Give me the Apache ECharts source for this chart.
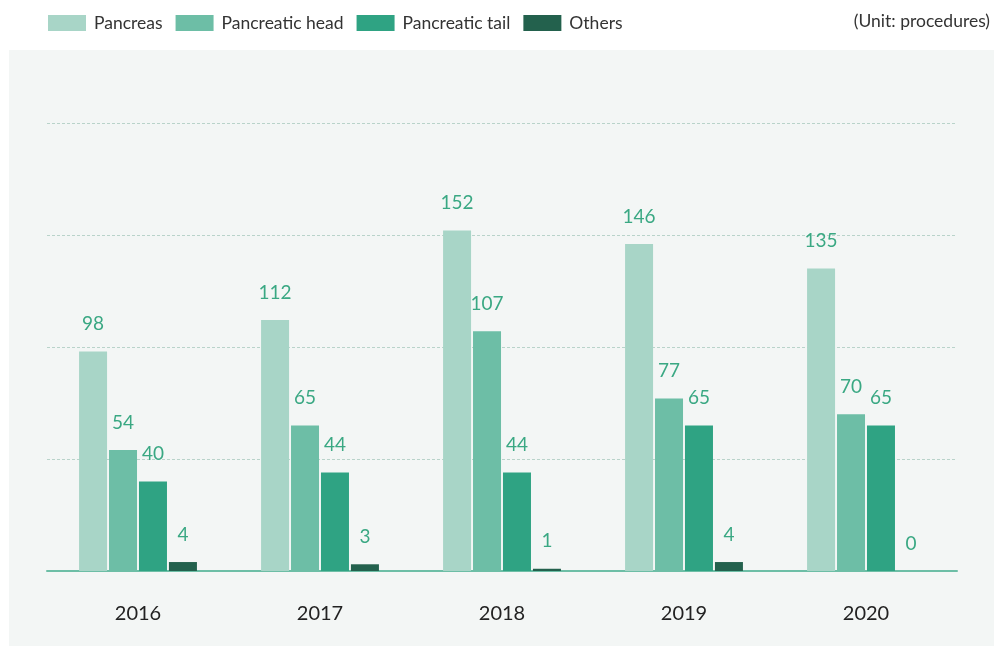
<!DOCTYPE html>
<html>
<head>
<meta charset="utf-8">
<script src="https://cdn.jsdelivr.net/npm/echarts@6/dist/echarts.min.js"></script>
<style>
  html, body { margin: 0; padding: 0; background: #fff; }
  #chart { width: 995px; height: 646px; }
</style>
</head>
<body>
<div id="chart"></div>
<script>
const years = ['2016', '2017', '2018', '2019', '2020']
const pancreas = [98, 112, 152, 146, 135]
const pancreaticHead = [54, 65, 107, 77, 70]
const pancreaticTail = [40, 44, 44, 65, 65]
const others = [4, 3, 1, 4, 0]

const colors = ['#a8d5c7', '#6dbea6', '#2fa383', '#23614d']
const fontFamily = 'Lato, "Noto Sans", sans-serif'

function barSeries(name, data) {
  return {
    name: name,
    type: 'bar',
    barWidth: 28,
    barGap: '7%',
    data: data,
    label: {
      show: true,
      position: 'top',
      distance: 18,
      color: '#3aa883',
      fontSize: 19,
      fontFamily: fontFamily
    }
  }
}

const chart = echarts.init(document.getElementById('chart'))
chart.setOption({
  animation: false,
  backgroundColor: '#fff',
  color: colors,
  textStyle: { fontFamily: fontFamily },
  graphic: [{
    type: 'rect',
    left: 9,
    top: 50,
    shape: { width: 985, height: 596 },
    style: { fill: '#f3f6f5' },
    z: -10
  }, {
    type: 'text',
    right: 5,
    top: 12,
    style: {
      text: '(Unit: procedures)',
      fill: '#333',
      font: '17.5px ' + fontFamily
    }
  }],
  legend: {
    left: 48,
    top: 14,
    padding: 0,
    itemWidth: 38,
    itemHeight: 16,
    itemGap: 13,
    icon: 'rect',
    textStyle: { color: '#333', fontSize: 17.5, fontFamily: fontFamily, padding: [0, 0, 0, 3] },
    data: ['Pancreas', 'Pancreatic head', 'Pancreatic tail', 'Others']
  },
  grid: {
    left: 47,
    right: 38,
    top: 123,
    bottom: 75
  },
  xAxis: {
    type: 'category',
    data: years,
    axisTick: { show: false },
    axisLine: { lineStyle: { color: '#6dbea6', width: 2 } },
    axisLabel: { color: '#222', fontSize: 20, margin: 33, fontFamily: fontFamily }
  },
  yAxis: {
    type: 'value',
    min: 0,
    max: 200,
    interval: 50,
    axisLabel: { show: false },
    axisLine: { show: false },
    axisTick: { show: false },
    splitLine: { lineStyle: { color: '#b9d3ca', type: [3, 2], width: 1 } }
  },
  series: [
    barSeries('Pancreas', pancreas),
    barSeries('Pancreatic head', pancreaticHead),
    barSeries('Pancreatic tail', pancreaticTail),
    barSeries('Others', others)
  ]
})
</script>
</body>
</html>
